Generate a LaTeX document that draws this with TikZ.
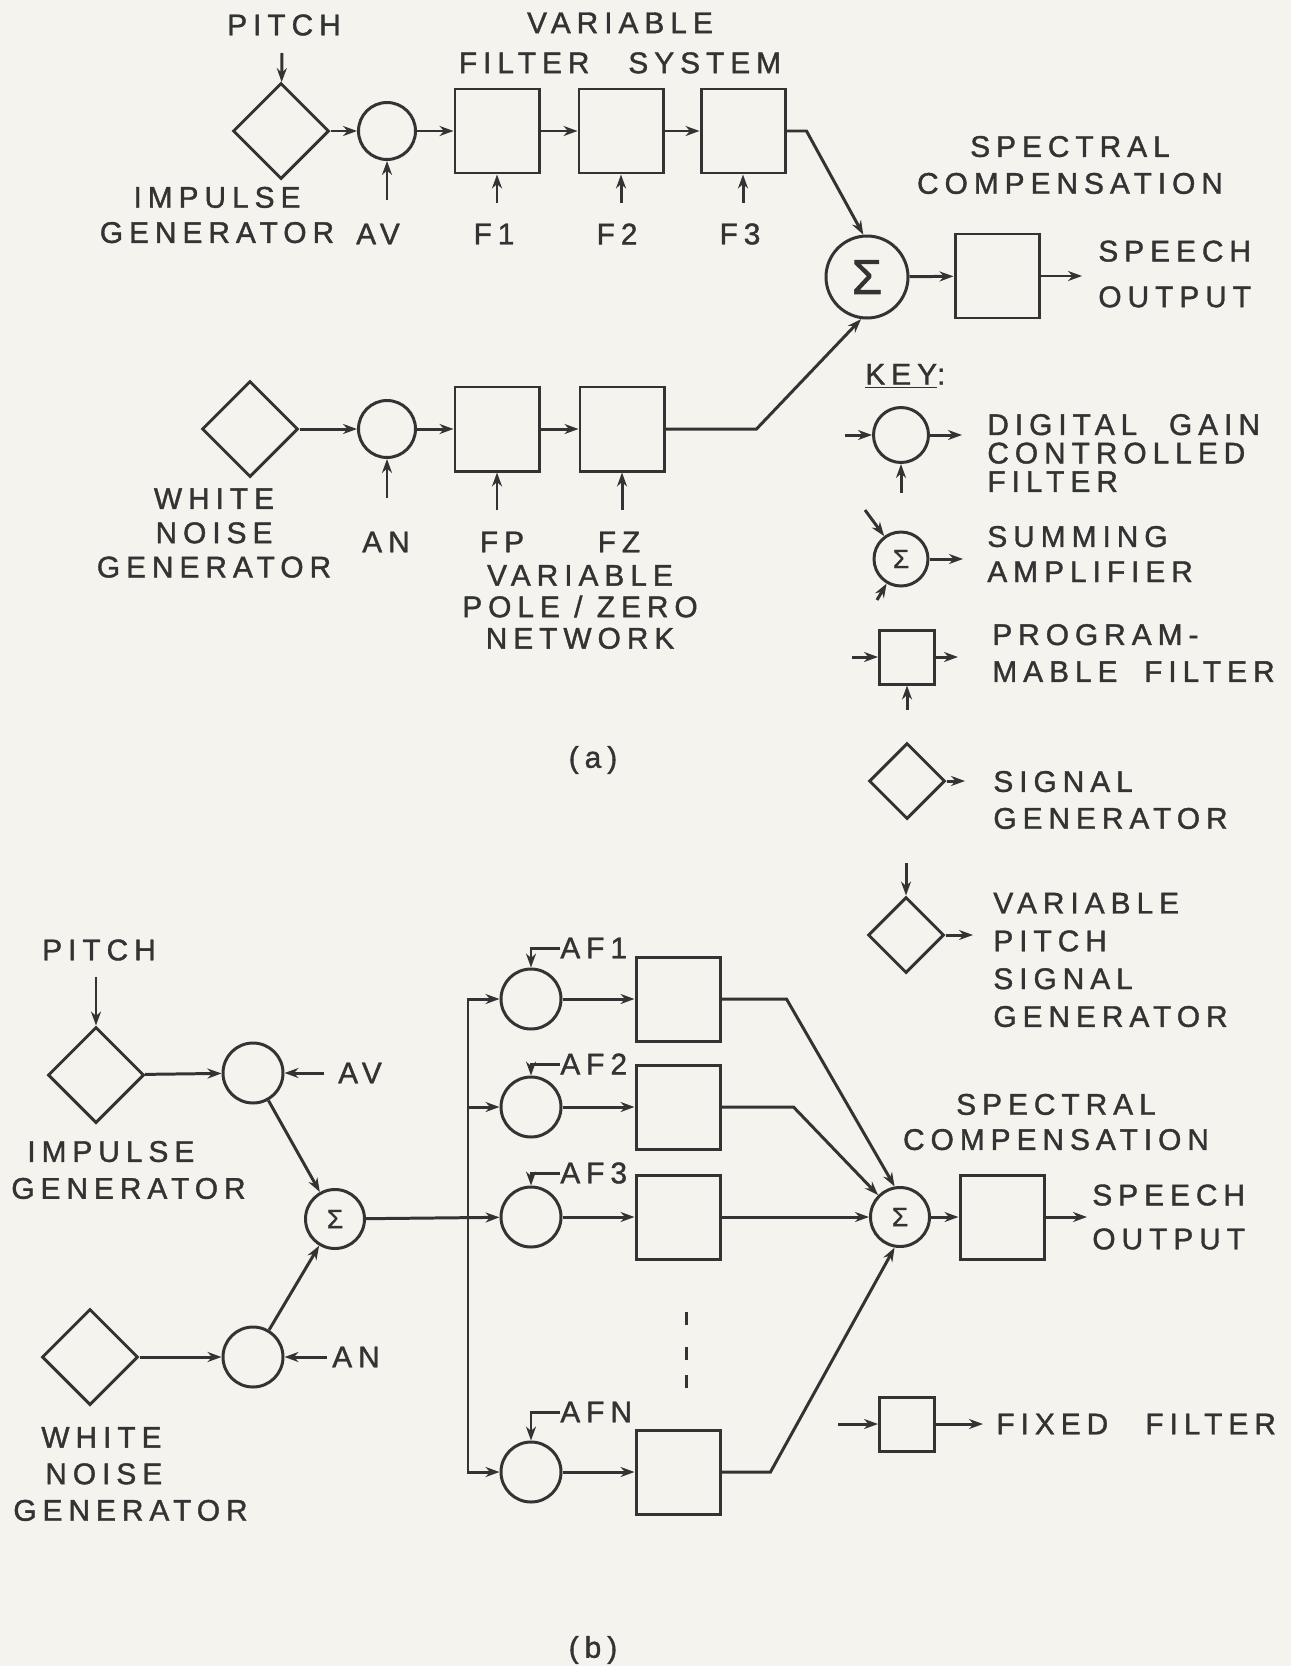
\documentclass[tikz,border=0pt]{standalone}
\usepackage{fontspec}
\setmainfont{Liberation Sans}
\newfontfamily\lett[LetterSpace=20,FakeBold=1.3]{Liberation Sans}
\usetikzlibrary{positioning,calc,arrows.meta,shapes.geometric}
\definecolor{paper}{HTML}{F5F3EE}
\definecolor{ink}{HTML}{333333}
\tikzset{
  lab/.style   ={font=\lett\fontsize{17}{20.5}\selectfont, text=ink, align=center, inner sep=0pt},
  keytxt/.style={lab, align=left, anchor=west},
  gen/.style   ={draw=ink, line width=1.7pt, diamond, minimum width=19.2mm, minimum height=19.2mm, inner sep=0pt},
  kgen/.style  ={gen, minimum width=15.2mm, minimum height=15.2mm},
  amp/.style   ={draw=ink, line width=1.7pt, circle, minimum size=11.4mm, inner sep=0pt},
  kamp/.style  ={amp, minimum size=11mm},
  sum/.style   ={draw=ink, line width=1.7pt, circle, minimum size=11.8mm, inner sep=0pt,
                 text=ink, font=\lett\fontsize{15}{15}\selectfont},
  filt/.style  ={draw=ink, line width=1.7pt, rectangle, minimum width=16.8mm, minimum height=16.8mm, inner sep=0pt},
  kfilt/.style ={filt, minimum width=11mm, minimum height=10.8mm},
  data/.style  ={-{Stealth[length=2.8mm,width=2mm]}, line width=1.7pt, draw=ink},
  wire/.style  ={line width=1.7pt, draw=ink},
}

\begin{document}
\begin{tikzpicture}[x=0.2mm, y=-0.2mm]

  \fill[paper] (0,0) rectangle (1291,1666);
  \useasboundingbox (0,0) rectangle (1291,1666);

  % ================= (a) =================
  \node[lab] (pitchA) at (284,25) {PITCH};
  \node[lab] (vfs) at (620,43) {VARIABLE\\[2.3pt]FILTER\hspace{14pt} SYSTEM};

  % ---- voiced row ----
  \node[gen]  (impA) at (281,131) {};
  \node[amp]  (avA)  at (387,131) {};
  \node[filt] (f1)   at (497,131) {};
  \node[filt] (f2)   at (621,131) {};
  \node[filt] (f3)   at (743,131) {};
  \coordinate (pitchAin) at (282,53);
  \coordinate (avAin) at (387,200);
  \coordinate (f1in) at (497,203);
  \coordinate (f2in) at (621,203);
  \coordinate (f3in) at (743,203);
  \draw[data] (pitchAin) -- (impA);
  \draw[data] (impA) -- (avA);
  \draw[data] (avA) -- (f1);
  \draw[data] (f1) -- (f2);
  \draw[data] (f2) -- (f3);
  \draw[data] (avAin) -- (avA);
  \draw[data] (f1in) -- (f1);
  \draw[data] (f2in) -- (f2);
  \draw[data] (f3in) -- (f3);
  \node[lab] (impAlab) at (217,215) {IMPULSE\\[-0.5pt]GENERATOR};
  \node[lab] (avAlab) at (378,234) {AV};
  \node[lab] (f1lab) at (494,234) {F1};
  \node[lab] (f2lab) at (617,234) {F2};
  \node[lab] (f3lab) at (740,234) {F3};

  % ---- unvoiced row ----
  \node[gen]  (wnA) at (250,429) {};
  \node[amp]  (anA) at (387,429) {};
  \node[filt] (fp)  at (497,429) {};
  \node[filt] (fz)  at (622,429) {};
  \coordinate (anAin) at (387,498);
  \coordinate (fpin) at (497,510);
  \coordinate (fzin) at (622,510);
  \draw[data] (wnA) -- (anA);
  \draw[data] (anA) -- (fp);
  \draw[data] (fp) -- (fz);
  \draw[data] (anAin) -- (anA);
  \draw[data] (fpin) -- (fp);
  \draw[data] (fzin) -- (fz);
  \node[lab] (wnAlab) at (214,533) {WHITE\\[-1pt]NOISE\\[-1pt]GENERATOR};
  \node[lab] (anAlab) at (386,542) {AN};
  \node[lab] (fplab) at (502,542) {FP};
  \node[lab] (fzlab) at (619,542) {FZ};
  \node[lab] (pznet) at (580,607) {VARIABLE\\[-2.6pt]POLE / ZERO\\[-2.6pt]NETWORK};

  % ---- summing + spectral compensation ----
  \node[sum, minimum size=16.4mm, font=\lett\fontsize{28}{28}\selectfont] (sumA) at (867,277) {Σ};
  \node[filt] (scA) at (997,276) {};
  \coordinate (outA) at (1082,276);
  \draw[data] (f3.east) -- ++(20,0) -- (sumA.95);
  \draw[data] (fz.east) -- ++(91,0) -- (sumA.262);
  \draw[data] (sumA) -- (scA);
  \draw[data] (scA) -- (outA);
  \node[lab] (scAlab) at (1070,165) {SPECTRAL\\[0.5pt]COMPENSATION};
  \node[keytxt] (spA) at (1098,274) {SPEECH\\[5.5pt]OUTPUT};

  \node[lab] (capA) at (593,760) {(a)};

  % ================= key =================
  \node[keytxt] (key) at (865,376) {\underline{KEY}:};

  \node[kamp] (kAmp) at (901,435) {};
  \coordinate (kAmpIn) at (845,435);
  \coordinate (kAmpOut) at (962,435);
  \coordinate (kAmpCtl) at (901,493);
  \draw[data] (kAmpIn) -- (kAmp);
  \draw[data] (kAmp) -- (kAmpOut);
  \draw[data] (kAmpCtl) -- (kAmp);
  \node[keytxt] (kAmpTxt) at (987,453) {DIGITAL\hspace{10pt} GAIN\\[-4.3pt]CONTROLLED\\[-4.3pt]FILTER};

  \node[sum, minimum size=10.8mm] (kSum) at (901,559) {Σ};
  \coordinate (kSumIn1) at (865,510);
  \coordinate (kSumIn2) at (877,600);
  \coordinate (kSumOut) at (963,559);
  \draw[data] (kSumIn1) -- (kSum);
  \draw[data] (kSumIn2) -- (kSum);
  \draw[data] (kSum) -- (kSumOut);
  \node[keytxt] (kSumTxt) at (987,554) {SUMMING\\[-0.5pt]AMPLIFIER};

  \node[kfilt] (kFilt) at (907,657) {};
  \coordinate (kFiltIn) at (852,657);
  \coordinate (kFiltOut) at (958,657);
  \coordinate (kFiltCtl) at (907,710);
  \draw[data] (kFiltIn) -- (kFilt);
  \draw[data] (kFilt) -- (kFiltOut);
  \draw[data] (kFiltCtl) -- (kFilt);
  \node[keytxt] (kFiltTxt) at (992,653) {PROGRAM-\\[0.5pt]MABLE\hspace{7pt} FILTER};

  \node[kgen] (kGen) at (907,781) {};
  \coordinate (kGenOut) at (965,781);
  \draw[data] (kGen) -- (kGenOut);
  \node[keytxt] (kGenTxt) at (993,800) {SIGNAL\\[0.5pt]GENERATOR};

  \node[kgen] (kVgen) at (906,935) {};
  \coordinate (kVgenIn) at (906,863);
  \coordinate (kVgenOut) at (973,935);
  \draw[data] (kVgenIn) -- (kVgen);
  \draw[data] (kVgen) -- (kVgenOut);
  \node[keytxt] (kVgenTxt) at (993,960) {VARIABLE\\[1pt]PITCH\\[1pt]SIGNAL\\[1pt]GENERATOR};

  \node[kfilt] (kFix) at (907,1424) {};
  \coordinate (kFixIn) at (838,1424);
  \coordinate (kFixOut) at (983,1424);
  \draw[data] (kFixIn) -- (kFix);
  \draw[data] (kFix) -- (kFixOut);
  \node[keytxt] (kFixTxt) at (996,1424) {FIXED\hspace{13pt} FILTER};

  % ================= (b) =================
  \node[lab] (pitchB) at (99,950) {PITCH};
  \node[gen] (impB) at (96,1075) {};
  \coordinate (pitchBin) at (96,977);
  \draw[data] (pitchBin) -- (impB);
  \node[amp, minimum size=12mm] (avB) at (253,1073) {};
  \coordinate (avBin) at (324,1073);
  \draw[data] (impB) -- (avB);
  \draw[data] (avBin) -- (avB);
  \node[lab] (avBlab) at (360,1073) {AV};
  \node[keytxt] (impBlab) at (11,1170) {\hspace*{3.2mm}IMPULSE\\[0.5pt]GENERATOR};

  \node[gen] (wnB) at (90,1357) {};
  \node[amp, minimum size=12mm] (anB) at (253,1357) {};
  \coordinate (anBin) at (327,1357);
  \draw[data] (wnB) -- (anB);
  \draw[data] (anBin) -- (anB);
  \node[lab] (anBlab) at (356,1357) {AN};
  \node[keytxt] (wnBlab) at (13,1474) {\hspace*{5.6mm}WHITE\\[0.3pt]\hspace*{6.4mm}NOISE\\[0.3pt]GENERATOR};

  \node[sum] (sumB1) at (335,1219) {Σ};
  \draw[data] (avB) -- (sumB1);
  \draw[data] (anB) -- (sumB1);

  % ---- filter bank ----
  \node[amp, minimum size=12mm] (af1) at (531,999) {};
  \node[amp, minimum size=12mm] (af2) at (531,1107) {};
  \node[amp, minimum size=12mm] (af3) at (531,1217) {};
  \node[amp, minimum size=12mm] (afN) at (531,1472) {};
  \node[filt] (fb1) at (678,999) {};
  \node[filt] (fb2) at (678,1107) {};
  \node[filt] (fb3) at (678,1217) {};
  \node[filt] (fbN) at (678,1472) {};

  \coordinate (bus1) at (468,999);
  \coordinate (busN) at (468,1472);
  \draw[data] (busN) -- (bus1) -- (af1);
  \draw[data] (bus1) -- (busN) -- (afN);
  \draw[data] (bus1 |- af2) -- (af2);
  \draw[data] (sumB1) -- (af3);

  \node[lab, anchor=west] (af1lab) at (560,948) {AF1};
  \node[lab, anchor=west] (af2lab) at (560,1064) {AF2};
  \node[lab, anchor=west] (af3lab) at (560,1173) {AF3};
  \node[lab, anchor=west] (afNlab) at (560,1412) {AFN};
  \draw[data] (af1lab.west) -| (af1.north);
  \draw[data] (af2lab.west) -| (af2.north);
  \draw[data] (af3lab.west) -| (af3.north);
  \draw[data] (afNlab.west) -| (afN.north);

  \draw[data] (af1) -- (fb1);
  \draw[data] (af2) -- (fb2);
  \draw[data] (af3) -- (fb3);
  \draw[data] (afN) -- (fbN);

  \foreach \y in {1312,1347,1375}
    \draw[wire] (686,\y) -- ++(0,13);

  % ---- summing + spectral compensation ----
  \node[sum] (sumB2) at (900,1217) {Σ};
  \node[filt] (scB) at (1002,1217) {};
  \coordinate (outB) at (1087,1217);
  \draw[data] (fb1.east) -- ++(65,0) -- (sumB2.100);
  \draw[data] (fb2.east) -- ++(72,0) -- (sumB2.135);
  \draw[data] (fb3) -- (sumB2);
  \draw[data] (fbN.east) -- ++(49,0) -- (sumB2.260);
  \draw[data] (sumB2) -- (scB);
  \draw[data] (scB) -- (outB);
  \node[lab] (scBlab) at (1056,1122) {SPECTRAL\\[-0.5pt]COMPENSATION};
  \node[keytxt] (spB) at (1092,1217) {SPEECH\\[4.5pt]OUTPUT};

  \node[lab] (capB) at (593,1650) {(b)};

\end{tikzpicture}
\end{document}
